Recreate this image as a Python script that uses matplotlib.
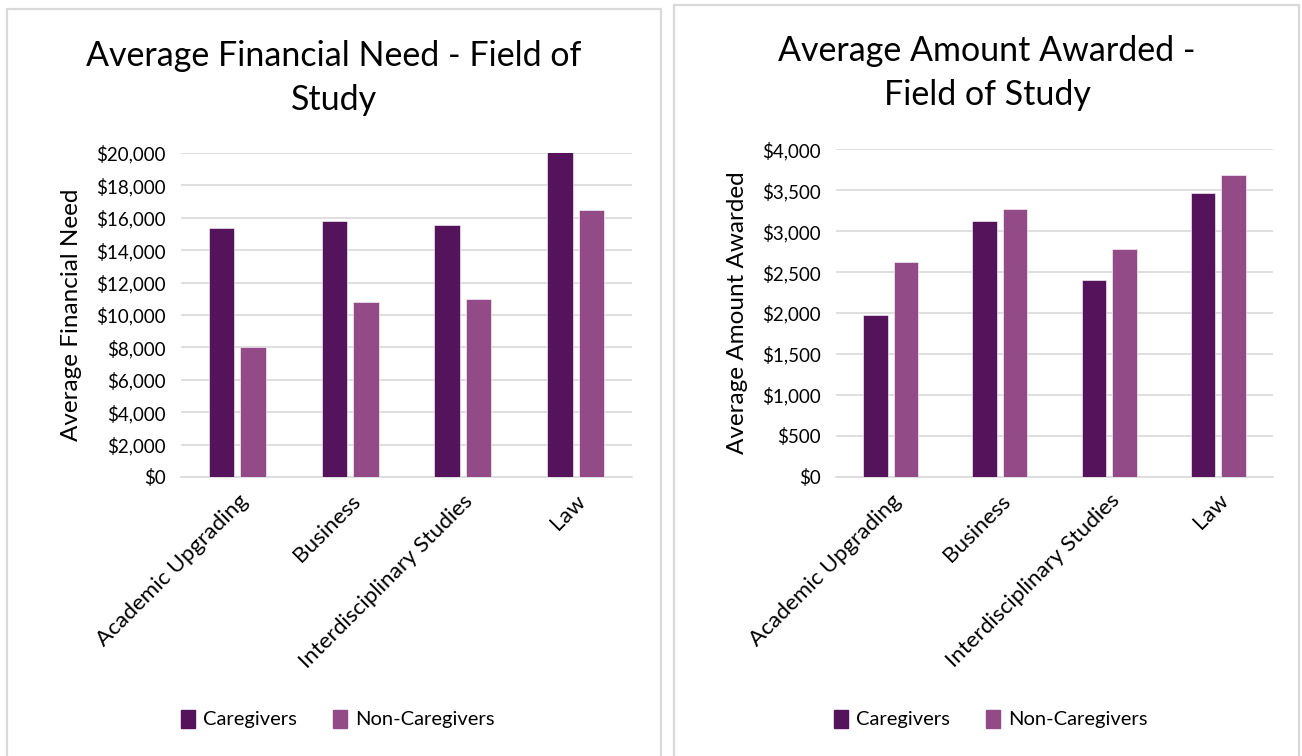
import matplotlib.pyplot as plt
import numpy as np
from matplotlib.patches import Rectangle, Patch
from matplotlib.ticker import FuncFormatter, MultipleLocator

plt.rcParams["font.family"] = ["Lato", "DejaVu Sans"]

categories = ["Academic Upgrading", "Business", "Interdisciplinary Studies", "Law"]
need_caregivers = [15400, 15810, 15530, 20040]
need_noncaregivers = [8020, 10780, 10970, 16470]
award_caregivers = [1976, 3120, 2407, 3466]
award_noncaregivers = [2627, 3271, 2778, 3682]

dark = "#54135A"
light = "#934B88"
grid_c = "#D9D9D9"

fig = plt.figure(figsize=(13.02, 7.56), dpi=100)

# panel borders (pixel coords -> figure coords)
W, H = 1302, 756
for x0, x1, y0 in [(7, 661, 9), (674, 1299, 5)]:
    fig.patches.append(Rectangle((x0 / W, -0.05), (x1 - x0) / W, 1.05 - y0 / H,
                                 transform=fig.transFigure, fill=False,
                                 edgecolor=grid_c, linewidth=1.6))


def money(v, _):
    return f"${v:,.0f}"


def draw(ax, cg, ncg, ymax, step, ylabel):
    x = np.arange(len(categories))
    w = 0.225
    ax.bar(x - 0.14, cg, w, color=dark, edgecolor="white", linewidth=0.4, zorder=3)
    ax.bar(x + 0.14, ncg, w, color=light, edgecolor="white", linewidth=0.4, zorder=3)
    ax.set_xlim(-0.5, len(categories) - 0.5)
    ax.set_ylim(0, ymax)
    ax.yaxis.set_major_locator(MultipleLocator(step))
    ax.yaxis.set_major_formatter(FuncFormatter(money))
    ax.grid(axis="y", color=grid_c, linewidth=1.2, zorder=0)
    for s in ["top", "right", "left"]:
        ax.spines[s].set_visible(False)
    ax.spines["bottom"].set_color(grid_c)
    ax.spines["bottom"].set_linewidth(1.2)
    ax.tick_params(axis="y", length=0, labelsize=13.5, pad=11, colors="#000000")
    ax.tick_params(axis="x", length=0, pad=10, colors="#000000")
    ax.set_xticks(x)
    ax.set_xticklabels(categories, rotation=45, ha="right", rotation_mode="anchor",
                       fontsize=16.2)
    ax.set_ylabel(ylabel, fontsize=17.5, labelpad=10)


ax1 = fig.add_axes([181 / W, 1 - 477 / H, 451 / W, 324 / H])
draw(ax1, need_caregivers, need_noncaregivers, 20000, 2000, "Average Financial Need")
ax2 = fig.add_axes([836 / W, 1 - 476.7 / H, 437 / W, 327.4 / H])
draw(ax2, award_caregivers, award_noncaregivers, 4000, 500, "Average Amount Awarded")

fig.text(334 / W, 1 - 78 / H, "Average Financial Need - Field of\nStudy",
         ha="center", va="center", fontsize=24.5, linespacing=1.45)
fig.text(987 / W, 1 - 73 / H, "Average Amount Awarded -\nField of Study",
         ha="center", va="center", fontsize=24.5, linespacing=1.45)

handles = [Patch(color=dark, label="Caregivers"), Patch(color=light, label="Non-Caregivers")]
for cx in [338, 991]:
    fig.legend(handles=handles, loc="center", bbox_to_anchor=(cx / W, 1 - 719 / H),
               ncol=2, frameon=False, fontsize=14.5, handlelength=0.7, handleheight=1.0,
               handletextpad=0.4, columnspacing=1.8)

fig.savefig("out.png", dpi=100)
